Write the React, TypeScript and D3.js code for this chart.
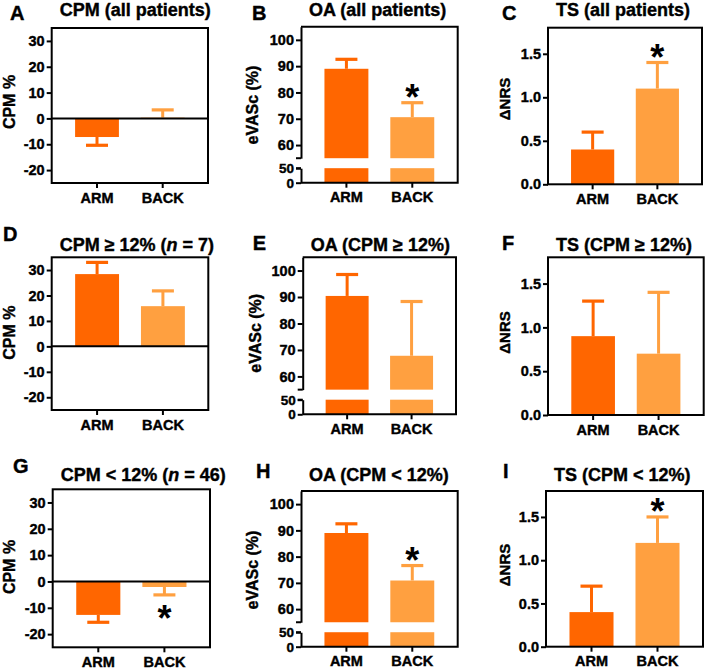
import React, { useRef, useEffect } from 'react'
import * as d3 from 'd3'

const categories = ['ARM', 'BACK']
const barColors = ['#ff6600', '#ffa040']

// mean and SEM of each bar
const cpmAllMean = [-7.2, 0.3]
const cpmAllSem = [3.2, 3.0]
const oaAllMean = [89.0, 70.6]
const oaAllSem = [3.6, 5.5]
const tsAllMean = [0.4, 1.1]
const tsAllSem = [0.2, 0.3]

const cpmHighMean = [28.4, 15.8]
const cpmHighSem = [4.6, 6.0]
const oaHighMean = [90.4, 67.8]
const oaHighSem = [8.1, 20.5]
const tsHighMean = [0.9, 0.7]
const tsHighSem = [0.4, 0.7]

const cpmLowMean = [-12.7, -2.1]
const cpmLowSem = [2.8, 3.0]
const oaLowMean = [89.0, 70.9]
const oaLowSem = [3.5, 5.7]
const tsLowMean = [0.4, 1.2]
const tsLowSem = [0.3, 0.3]

// significance (*) per bar
const starsNone = [false, false]
const starsBack = [false, true]

// axis ticks
const cpmTicks = [-20, -10, 0, 10, 20, 30]
const oaUpperTicks = [60, 70, 80, 90, 100]
const oaLowerTicks = [0, 50]
const tsTicks = [0, 0.5, 1.0, 1.5]

const FONT = '"Liberation Sans", Arial, Helvetica, sans-serif'

const panels = [
  { letter: 'A', lx: 10, ly: 20, title: [['CPM (all patients)', false]], titleY: 15.5,
    kind: 'cpm', yLabel: 'CPM %', yx: 15, yy: 102, box: [51.7, 28, 208, 183],
    mean: cpmAllMean, sem: cpmAllSem, stars: starsNone },
  { letter: 'B', lx: 252, ly: 20, title: [['OA (all patients)', false]], titleY: 15.5,
    kind: 'oa', yLabel: 'eVASc (%)', yx: 258, yy: 105, box: [301, 26.7, 457.7, 182.7],
    mean: oaAllMean, sem: oaAllSem, stars: starsBack },
  { letter: 'C', lx: 502, ly: 20, title: [['TS (all patients)', false]], titleY: 16,
    kind: 'ts', yLabel: 'ΔNRS', yx: 510, yy: 99, box: [548, 27.7, 702, 184.3],
    mean: tsAllMean, sem: tsAllSem, stars: starsBack },
  { letter: 'D', lx: 3, ly: 240.5, title: [['CPM ≥ 12% (', false], ['n', true], [' = 7)', false]], titleY: 250.5,
    kind: 'cpm', yLabel: 'CPM %', yx: 15, yy: 332.7, box: [51.7, 257.3, 208.3, 410],
    mean: cpmHighMean, sem: cpmHighSem, stars: starsNone },
  { letter: 'E', lx: 252.7, ly: 250, title: [['OA (CPM ≥ 12%)', false]], titleY: 250.5,
    kind: 'oa', yLabel: 'eVASc (%)', yx: 261, yy: 333.3, box: [302.7, 257.3, 456, 414.3],
    mean: oaHighMean, sem: oaHighSem, stars: starsNone },
  { letter: 'F', lx: 502, ly: 250, title: [['TS (CPM ≥ 12%)', false]], titleY: 250.5,
    kind: 'ts', yLabel: 'ΔNRS', yx: 510, yy: 332.5, box: [548, 257.3, 703.7, 415],
    mean: tsHighMean, sem: tsHighSem, stars: starsNone },
  { letter: 'G', lx: 13, ly: 473.3, title: [['CPM < 12% (', false], ['n', true], [' = 46)', false]], titleY: 481,
    kind: 'cpm', yLabel: 'CPM %', yx: 15, yy: 567, box: [52.7, 489.3, 210, 647.3],
    mean: cpmLowMean, sem: cpmLowSem, stars: starsBack },
  { letter: 'H', lx: 256, ly: 478, title: [['OA (CPM < 12%)', false]], titleY: 481,
    kind: 'oa', yLabel: 'eVASc (%)', yx: 258, yy: 570, box: [301, 491, 457.7, 646.7],
    mean: oaLowMean, sem: oaLowSem, stars: starsBack },
  { letter: 'I', lx: 503, ly: 478, title: [['TS (CPM < 12%)', false]], titleY: 481,
    kind: 'ts', yLabel: 'ΔNRS', yx: 510, yy: 565, box: [546, 491, 703, 646.7],
    mean: tsLowMean, sem: tsLowSem, stars: starsBack },
]

// heavier look for all text, like the original figure
function heavy(sel) {
  return sel.attr('font-family', FONT).attr('font-weight', 'bold')
    .attr('stroke', '#000').attr('stroke-width', 0.4).attr('fill', '#000')
}

function styleAxis(ax, size = 14.5) {
  ax.attr('font-family', FONT).attr('font-size', size).attr('font-weight', 'bold')
  ax.selectAll('line').attr('stroke-width', 2)
  ax.selectAll('path').attr('stroke-width', 2)
  heavy(ax.selectAll('text'))
}

function drawPanel(svg, p) {
  const [x0, y0, x1, y1] = p.box
  const w = x1 - x0
  const h = y1 - y0
  const g = svg.append('g').attr('transform', `translate(${x0},${y0})`)

  // panel letter, title, y label
  heavy(svg.append('text').attr('x', p.lx).attr('y', p.ly).attr('font-size', 20)).text(p.letter)
  const t = heavy(svg.append('text').attr('x', x0 + 8).attr('y', p.titleY).attr('font-size', 18))
  p.title.forEach(([s, it]) => t.append('tspan').attr('font-style', it ? 'italic' : null).text(s))
  heavy(svg.append('text')
    .attr('transform', `translate(${p.yx},${p.yy}) rotate(-90)`)
    .attr('text-anchor', 'middle')
    .attr('font-size', p.kind === 'ts' ? 15 : 16))
    .text(p.yLabel)

  const x = d3.scaleBand().domain(categories).range([0, w]).paddingInner(0.333).paddingOuter(0.356)
  const bw = x.bandwidth()
  const cx = i => x(categories[i]) + bw / 2
  const capW = 22

  let y
  if (p.kind === 'oa') {
    const upperH = h * 0.843
    const lowerTop = h - h * 0.093
    const yU = d3.scaleLinear().domain([55, 105]).range([upperH, 0])
    const yL = d3.scaleLinear().domain([0, 50]).range([h, lowerTop])
    y = yU

    g.selectAll('rect.up').data(p.mean).join('rect').attr('class', 'up')
      .attr('x', (d, i) => x(categories[i])).attr('width', bw)
      .attr('y', d => yU(d)).attr('height', d => upperH - yU(d))
      .attr('fill', (d, i) => barColors[i])
    g.selectAll('rect.low').data(p.mean).join('rect').attr('class', 'low')
      .attr('x', (d, i) => x(categories[i])).attr('width', bw)
      .attr('y', yL(50)).attr('height', yL(0) - yL(50))
      .attr('fill', (d, i) => barColors[i])

    const axU = g.append('g')
      .call(d3.axisLeft(yU).tickValues(oaUpperTicks).tickSize(5).tickSizeOuter(0).tickPadding(2).tickFormat(d => String(d)))
    const axL = g.append('g')
      .call(d3.axisLeft(yL).tickValues(oaLowerTicks).tickSize(5).tickSizeOuter(0).tickPadding(2).tickFormat(d => String(d)))
    styleAxis(axU)
    styleAxis(axL, 13.5)
    // break hooks
    ;[upperH, lowerTop].forEach(yy => {
      g.append('line').attr('x1', -5).attr('x2', 0).attr('y1', yy).attr('y2', yy)
        .attr('stroke', '#000').attr('stroke-width', 2)
    })
    // rest of the frame
    g.append('path').attr('d', `M0,0H${w}V${h}H0`).attr('fill', 'none')
      .attr('stroke', '#000').attr('stroke-width', 2)
  } else {
    const domain = p.kind === 'cpm' ? [-25, 35] : [0, 1.8]
    y = d3.scaleLinear().domain(domain).range([h, 0])
    g.selectAll('rect.bar').data(p.mean).join('rect').attr('class', 'bar')
      .attr('x', (d, i) => x(categories[i])).attr('width', bw)
      .attr('y', d => Math.min(y(d), y(0))).attr('height', d => Math.abs(y(d) - y(0)))
      .attr('fill', (d, i) => barColors[i])
  }

  // error bars (one-sided, SEM)
  const ends = p.mean.map((m, i) => (m >= 0 ? m + p.sem[i] : m - p.sem[i]))
  g.selectAll('line.whisker').data(p.mean).join('line').attr('class', 'whisker')
    .attr('x1', (d, i) => cx(i)).attr('x2', (d, i) => cx(i))
    .attr('y1', d => y(d)).attr('y2', (d, i) => y(ends[i]))
    .attr('stroke', (d, i) => barColors[i]).attr('stroke-width', 3)
  g.selectAll('line.cap').data(ends).join('line').attr('class', 'cap')
    .attr('x1', (d, i) => cx(i) - capW / 2).attr('x2', (d, i) => cx(i) + capW / 2)
    .attr('y1', d => y(d)).attr('y2', d => y(d))
    .attr('stroke', (d, i) => barColors[i]).attr('stroke-width', 3.2)

  if (p.kind !== 'oa') {
    const tv = p.kind === 'cpm' ? cpmTicks : tsTicks
    const fmt = p.kind === 'cpm' ? (d => String(d)) : d3.format('.1f')
    const ay = g.append('g').call(d3.axisLeft(y).tickValues(tv).tickSize(5).tickSizeOuter(0).tickPadding(2).tickFormat(fmt))
    styleAxis(ay)
    ay.select('.domain').remove()
    if (p.kind === 'cpm') {
      g.append('line').attr('x1', 0).attr('x2', w).attr('y1', y(0)).attr('y2', y(0))
        .attr('stroke', '#000').attr('stroke-width', 2)
    }
    g.append('rect').attr('x', 0).attr('y', 0).attr('width', w).attr('height', h)
      .attr('fill', 'none').attr('stroke', '#000').attr('stroke-width', 2)
  }

  // x axis
  const ax = g.append('g').attr('transform', `translate(0,${h})`)
    .call(d3.axisBottom(x).tickSize(5).tickSizeOuter(0).tickPadding(4.5))
  styleAxis(ax)
  ax.select('.domain').remove()

  // significance stars
  p.stars.forEach((s, i) => {
    if (!s) return
    const cy = ends[i] >= 0 ? y(ends[i]) - 12 : y(ends[i]) + 16.5
    g.append('text').attr('x', cx(i)).attr('y', cy + 19.5)
      .attr('text-anchor', 'middle').attr('font-family', FONT)
      .attr('font-size', 36).attr('font-weight', 'bold').text('*')
  })
}

export default function App() {
  const svgRef = useRef(null)

  useEffect(() => {
    const svg = d3.select(svgRef.current)
    svg.selectAll('*').remove()
    svg.append('rect').attr('width', 708).attr('height', 670).attr('fill', '#fff')
    panels.forEach(p => drawPanel(svg, p))
  }, [])

  return (
    <svg ref={svgRef} width={708} height={670}
      style={{ position: 'absolute', left: 0, top: 0, background: '#fff' }} />
  )
}
